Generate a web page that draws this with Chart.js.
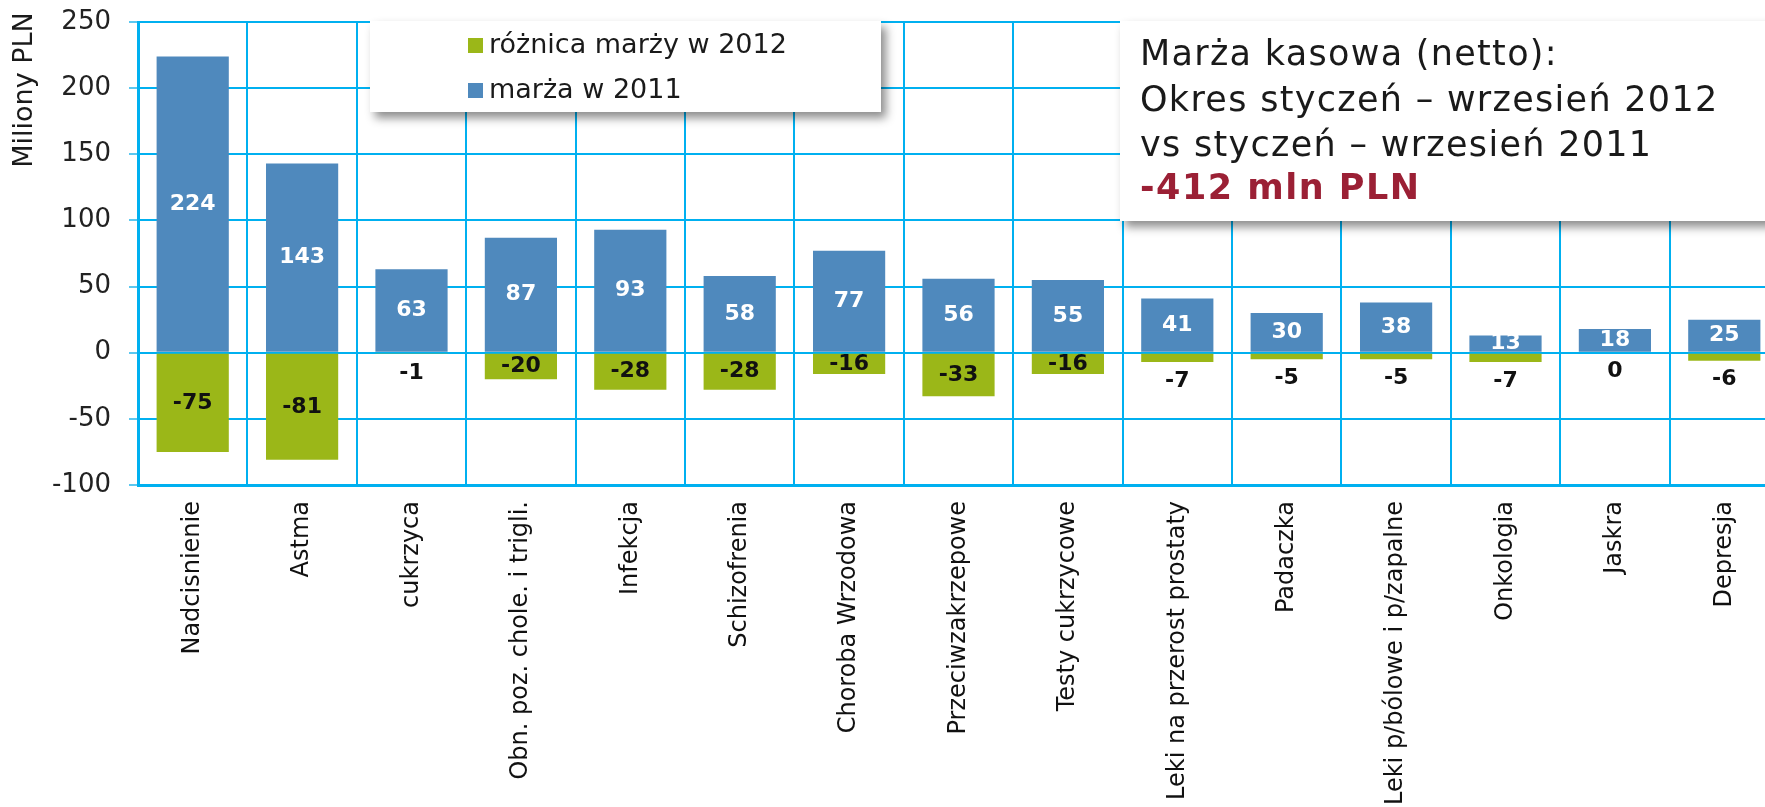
<!DOCTYPE html>
<html><head><meta charset="utf-8">
<script src="https://cdn.jsdelivr.net/npm/chart.js@4/dist/chart.umd.min.js"></script>
<style>
html,body{margin:0;padding:0;background:#fff;overflow:hidden;width:1765px;height:807px}
#wrap{position:absolute;left:0;top:0;width:1779px;height:807px}
</style>
</head><body><div id="wrap"><canvas id="c" width="1779" height="807"></canvas></div>
<script>
const categories = ['Nadcisnienie','Astma','cukrzyca','Obn. poz. chole. i trigli.','Infekcja','Schizofrenia','Choroba Wrzodowa','Przeciwzakrzepowe','Testy cukrzycowe','Leki na przerost prostaty','Padaczka','Leki p/bólowe i p/zapalne','Onkologia','Jaskra','Depresja'];
const margin2011 = [224,143,63,87,93,58,77,56,55,41,30,38,13,18,25];
const diff2012 = [-75,-81,-1,-20,-28,-28,-16,-33,-16,-7,-5,-5,-7,0,-6];
const yMin = -100, yMax = 250, yStep = 50;
const seriesNames = ['różnica marży w 2012','marża w 2011'];
const yAxisTitle = 'Miliony PLN';
const titleLines = ['Marża kasowa (netto):','Okres styczeń – wrzesień 2012','vs styczeń – wrzesień 2011'];
const titleTotal = '-412 mln PLN';

const FONT = '"DejaVu Sans", Verdana, sans-serif';
const BLUE = '#4F89BD', GREEN = '#9BB718', GRID = '#00B0F0', RED = '#9B2035';

function shadowBox(ctx,x,y,w,h){
  ctx.save();
  ctx.shadowColor='rgba(0,0,0,0.45)'; ctx.shadowBlur=9; ctx.shadowOffsetX=5; ctx.shadowOffsetY=6;
  ctx.fillStyle='#fff'; ctx.fillRect(x,y,w,h);
  ctx.restore();
}

const labelPlugin = {
  id:'barLabels',
  afterDatasetsDraw(chart){
    const ctx=chart.ctx; ctx.save();
    ctx.font='bold 22px '+FONT; ctx.textAlign='center'; ctx.textBaseline='middle';
    chart.data.datasets.forEach((ds,di)=>{
      const meta=chart.getDatasetMeta(di);
      meta.data.forEach((bar,i)=>{
        const v=ds.data[i];
        const top=Math.min(bar.y,bar.base), bot=Math.max(bar.y,bar.base);
        const y = (ds.labelInside || (bot-top)>=18) ? (top+bot)/2 : bot+19;
        ctx.fillStyle=ds.labelColor;
        ctx.fillText(String(v), bar.x, y);
      });
    });
    ctx.restore();
  },
  afterDraw(chart){
    const ctx=chart.ctx;
    ctx.save();
    ctx.translate(25,90); ctx.rotate(-Math.PI/2);
    ctx.font='27px '+FONT; ctx.fillStyle='#1a1a1a'; ctx.textAlign='center'; ctx.textBaseline='middle';
    ctx.fillText(yAxisTitle,0,0);
    ctx.restore();
    shadowBox(ctx,370,21,511,91);
    ctx.save();
    ctx.font='27px '+FONT; ctx.textBaseline='middle'; ctx.textAlign='left';
    const items=[{t:chart.data.datasets[0].label,c:chart.data.datasets[0].backgroundColor,y:45},
                 {t:chart.data.datasets[1].label,c:chart.data.datasets[1].backgroundColor,y:90}];
    items.forEach(it=>{
      ctx.fillStyle=it.c; ctx.fillRect(468,it.y-7,15,15);
      ctx.fillStyle='#1a1a1a'; ctx.fillText(it.t,489,it.y+1);
    });
    ctx.restore();
    shadowBox(ctx,1120,21,720,200);
    ctx.save();
    ctx.textBaseline='middle'; ctx.textAlign='left';
    ctx.font='35px '+FONT; ctx.fillStyle='#1a1a1a';
    ctx.letterSpacing='1.3px';
    const ys=[56,102,147];
    titleLines.forEach((l,i)=>ctx.fillText(l,1140,ys[i]));
    ctx.font='bold 35px '+FONT; ctx.fillStyle=RED; ctx.letterSpacing='1.5px';
    ctx.fillText(titleTotal,1140,190);
    ctx.restore();
  }
};

new Chart(document.getElementById('c'),{
  type:'bar',
  data:{
    labels:categories,
    datasets:[
      {label:seriesNames[0],data:diff2012,backgroundColor:GREEN,labelColor:'#111',labelInside:false,barPercentage:0.66,categoryPercentage:1},
      {label:seriesNames[1],data:margin2011,backgroundColor:BLUE,labelColor:'#fff',labelInside:true,barPercentage:0.66,categoryPercentage:1}
    ]
  },
  options:{
    responsive:false, animation:false, devicePixelRatio:1,
    layout:{padding:{top:22,left:0,right:0,bottom:0}},
    plugins:{legend:{display:false},tooltip:{enabled:false},title:{display:false}},
    scales:{
      x:{
        stacked:true,
        afterFit:(s)=>{s.height=322; s.paddingTop=0; s.paddingBottom=0;},
        grid:{color:GRID,lineWidth:2,drawTicks:false,offset:true},
        border:{color:GRID,width:3},
        ticks:{minRotation:90,maxRotation:90,autoSkip:false,padding:16,color:'#111',font:{family:FONT,size:24}}
      },
      y:{
        stacked:true, min:yMin, max:yMax,
        afterFit:(s)=>{s.width=138; s.paddingTop=0; s.paddingBottom=0;},
        grid:{color:GRID,lineWidth:2,tickLength:9,tickColor:'#5cc8f0'},
        border:{color:GRID,width:3},
        ticks:{stepSize:yStep,padding:18,color:'#222',font:{family:FONT,size:26}}
      }
    }
  },
  plugins:[labelPlugin]
});
</script>
</body></html>
